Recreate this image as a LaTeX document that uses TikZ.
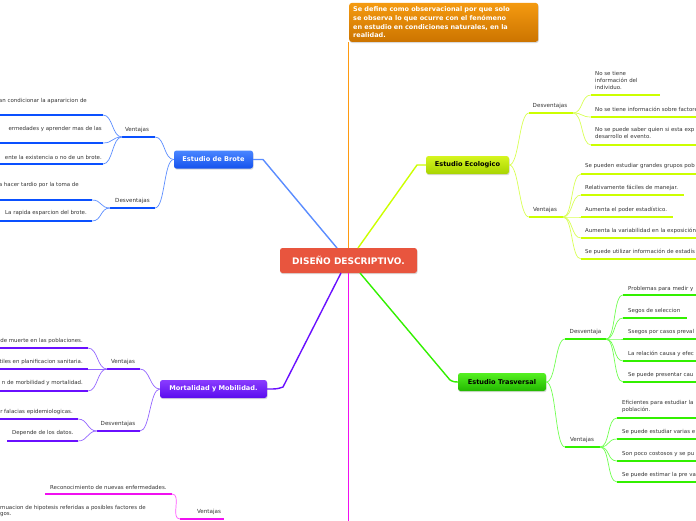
\documentclass[tikz,border=0pt]{standalone}
\usepackage{fontspec}
\setmainfont{DejaVu Sans}
\usetikzlibrary{shadows}
\definecolor{txt}{HTML}{333333}
\definecolor{cred}{HTML}{E8553E}
\definecolor{orT}{HTML}{F49A10}
\definecolor{orB}{HTML}{CC7400}
\definecolor{orL}{HTML}{FF9A10}
\definecolor{blT}{HTML}{4A86FF}
\definecolor{blB}{HTML}{1452EE}
\definecolor{blU}{HTML}{0A50FF}
\definecolor{blL}{HTML}{5A8CFF}
\definecolor{puT}{HTML}{8A3CFF}
\definecolor{puB}{HTML}{5A0CEE}
\definecolor{puU}{HTML}{6A10FF}
\definecolor{puL}{HTML}{9466FF}
\definecolor{ygT}{HTML}{D6F520}
\definecolor{ygB}{HTML}{A8D400}
\definecolor{ygU}{HTML}{CCFF00}
\definecolor{ygL}{HTML}{D8FF55}
\definecolor{grT}{HTML}{55F022}
\definecolor{grB}{HTML}{22B800}
\definecolor{grU}{HTML}{33F000}
\definecolor{grL}{HTML}{70FF50}
\definecolor{piU}{HTML}{F010F0}
\definecolor{piL}{HTML}{FF55FF}
\newcommand\leaf[5]{\coordinate (#1l) at (#2,#4); \coordinate (#1r) at (#3,#4); \draw[ul,#5] (#1l) -- (#1r);}
\begin{document}
\begin{tikzpicture}[x=1pt,y=-1pt,
  leaftext/.style={font=\fontsize{5.45}{6.6}\selectfont, text=txt, inner sep=0pt, align=left},
  lbl/.style={font=\fontsize{5.6}{6.5}\selectfont, text=txt, inner sep=0pt},
  ul/.style={line width=2.6pt},
  con/.style={line width=0.7pt},
  trunk/.style={line width=1.4pt},
  mainbox/.style={rounded corners=2.5pt, minimum height=18pt, inner sep=0pt,
    font=\bfseries\fontsize{6.6}{8}\selectfont,
    drop shadow={shadow xshift=0.6pt, shadow yshift=-1.2pt, opacity=0.3}},
]
\useasboundingbox (0,0) rectangle (696,520);
\clip (0,0) rectangle (696,520);

% ---------- central node and top definition ----------
\node[mainbox, fill=cred, minimum width=137pt, minimum height=25pt, text=white,
      font=\bfseries\fontsize{9}{10}\selectfont] (c) at (348.5,260.5) {DISEÑO DESCRIPTIVO.};
\node[mainbox, top color=orT, bottom color=orB, minimum width=189pt, text width=181pt,
      inner xsep=4pt, inner ysep=4pt, align=left, anchor=south west, text=white,
      font=\bfseries\fontsize{6.5}{8.6}\selectfont] (def) at (349,42)
  {Se define como observacional por que solo\\se observa lo que ocurre con el fenómeno\\en estudio en condiciones naturales, en la\\realidad.};
\draw[trunk, orL] (c.north) -- (c.north |- def.south);
\draw[trunk, piU] (c.south) -- (348.5,530);

% ---------- main topic nodes ----------
\node[mainbox, top color=blT, bottom color=blB, minimum width=79pt, text=white] (B) at (213.5,159.5) {Estudio de Brote};
\node[mainbox, top color=puT, bottom color=puB, minimum width=107pt, text=white] (M) at (213.5,389) {Mortalidad y Mobilidad.};
\node[mainbox, top color=ygT, bottom color=ygB, minimum width=83pt, text=black] (E) at (467.5,165) {Estudio Ecologico};
\node[mainbox, top color=grT, bottom color=grB, minimum width=88pt, text=black] (T) at (502,382) {Estudio Trasversal};

\coordinate (cB) at (337,248); \coordinate (kB) at (263,159.5);
\coordinate (cE) at (358,248); \coordinate (kE) at (417,165);
\coordinate (cM) at (341,273); \coordinate (kM) at (283,387);
\coordinate (cT) at (360,273); \coordinate (kT) at (450,380);
\draw[trunk, blL] (cB) -- (kB) .. controls +(-4,0) .. (B.east);
\draw[trunk, ygU] (cE) -- (kE) .. controls +(4,0) .. (E.west);
\draw[trunk, puU] (cM) -- (kM) .. controls +(-6,2) .. (M.east);
\draw[trunk, grU] (cT) -- (kT) .. controls +(4,2) .. (T.west);

% ---------- Estudio de Brote ----------
\leaf{bV}{122}{155}{137}{blU}
\leaf{bD}{110}{155}{208}{blU}
\node[lbl] (bVt) at (137,130) {Ventajas};
\node[lbl] (bDt) at (132.5,201) {Desventajas};
\draw[con, blL] (B.west) .. controls +(-10,0) and +(10,0) .. (bVr);
\draw[con, blL] (B.west) .. controls +(-10,0) and +(10,0) .. (bDr);
\leaf{b1}{-5}{103}{115}{blU}
\leaf{b2}{-5}{103}{143}{blU}
\leaf{b3}{-5}{103}{164}{blU}
\leaf{b4}{-5}{92}{200}{blU}
\leaf{b5}{0}{92}{221}{blU}
\node[leaftext, anchor=east] (b1t) at (87,101) {an condicionar la apararicion de};
\node[leaftext, anchor=east] (b2t) at (102,129) {ermedades y aprender mas de las};
\node[leaftext, anchor=east] (b3t) at (102,157) {ente la existencia o no de un brote.};
\node[leaftext, anchor=east] (b4t) at (79,185) {a hacer tardio por la toma de};
\node[leaftext, anchor=west] (b5t) at (5,213) {La rapida esparcion del brote.};
\foreach \i in {b1,b2,b3} \draw[con, blL] (bVl) .. controls +(-10,0) and +(10,0) .. (\i r);
\foreach \i in {b4,b5} \draw[con, blL] (bDl) .. controls +(-10,0) and +(10,0) .. (\i r);

% ---------- Mortalidad ----------
\leaf{mV}{107}{140}{369}{puU}
\leaf{mD}{97}{140}{431}{puU}
\node[lbl] (mVt) at (123,362) {Ventajas};
\node[lbl] (mDt) at (118,424) {Desventajas};
\draw[con, puL] (M.west) .. controls +(-10,0) and +(10,0) .. (mVr);
\draw[con, puL] (M.west) .. controls +(-10,0) and +(10,0) .. (mDr);
\leaf{m1}{-5}{88}{348}{puU}
\leaf{m2}{-5}{88}{369}{puU}
\leaf{m3}{-5}{88}{391}{puU}
\leaf{m4}{-5}{78}{419}{puU}
\leaf{m5}{7}{78}{441}{puU}
\node[leaftext, anchor=east] (m1t) at (83,341) {de muerte en las poblaciones.};
\node[leaftext, anchor=east] (m2t) at (83,362) {tiles en planificacion sanitaria.};
\node[leaftext, anchor=east] (m3t) at (83,383) {n de morbilidad y mortalidad.};
\node[leaftext, anchor=east] (m4t) at (73,412) {r falacias epidemiologicas.};
\node[leaftext, anchor=west] (m5t) at (12,433) {Depende de los datos.};
\foreach \i in {m1,m2,m3} \draw[con, puL] (mVl) .. controls +(-10,0) and +(10,0) .. (\i r);
\foreach \i in {m4,m5} \draw[con, puL] (mDl) .. controls +(-10,0) and +(10,0) .. (\i r);

% ---------- bottom (pink) ----------
\leaf{pV}{180}{224}{519}{piU}
\node[lbl] (pVt) at (209,512) {Ventajas};
\leaf{p1}{45}{172}{494}{piU}
\node[leaftext, anchor=west] (p1t) at (50,487) {Reconocimiento de nuevas enfermedades.};
\node[leaftext, anchor=north west, font=\fontsize{5.45}{5.8}\selectfont] (p2t) at (0,505.5) {muacion de hipotesis referidas a posibles factores de\\gos.};
\draw[con, piL] (pVl) .. controls +(-10,0) and +(10,0) .. (p1r);

% ---------- Estudio Ecologico ----------
\leaf{eD}{529}{573}{113}{ygU}
\leaf{eV}{529}{563}{217}{ygU}
\node[lbl] (eDt) at (550,106) {Desventajas};
\node[lbl] (eVt) at (545,209.5) {Ventajas};
\draw[con, ygL] (E.east) .. controls +(10,0) and +(-10,0) .. (eDl);
\draw[con, ygL] (E.east) .. controls +(10,0) and +(-10,0) .. (eVl);
\leaf{e1}{591}{660}{95}{ygU}
\leaf{e2}{591}{700}{117}{ygU}
\leaf{e3}{591}{700}{145}{ygU}
\node[leaftext, anchor=north west] (e1t) at (595,71.5) {No se tiene\\información del\\individuo.};
\node[leaftext, anchor=west] (e2t) at (595,109) {No se tiene información sobre factores};
\node[leaftext, anchor=north west] (e3t) at (595,127.5) {No se puede saber quien si esta exp\\desarrollo el evento.};
\foreach \i in {e1,e2,e3} \draw[con, ygL] (eDr) .. controls +(10,0) and +(-10,0) .. (\i l);
\leaf{e4}{581}{700}{174}{ygU}
\leaf{e5}{581}{684}{195}{ygU}
\leaf{e6}{581}{673}{217}{ygU}
\leaf{e7}{581}{700}{238}{ygU}
\leaf{e8}{581}{700}{259}{ygU}
\node[leaftext, anchor=west] (e4t) at (585,166) {Se pueden estudiar grandes grupos pob};
\node[leaftext, anchor=west] (e5t) at (585,188) {Relativamente fáciles de manejar.};
\node[leaftext, anchor=west] (e6t) at (585,210) {Aumenta el poder estadístico.};
\node[leaftext, anchor=west] (e7t) at (585,231) {Aumenta la variabilidad en la exposición};
\node[leaftext, anchor=west] (e8t) at (585,252) {Se puede utilizar información de estadís};
\foreach \i in {e4,e5,e6,e7,e8} \draw[con, ygL] (eVr) .. controls +(10,0) and +(-10,0) .. (\i l);

% ---------- Estudio Trasversal ----------
\leaf{tD}{565}{606}{339}{grU}
\leaf{tV}{565}{600}{447}{grU}
\node[lbl] (tDt) at (585.5,332) {Desventaja};
\node[lbl] (tVt) at (582,439.5) {Ventajas};
\draw[con, grL] (T.east) .. controls +(10,0) and +(-10,0) .. (tDl);
\draw[con, grL] (T.east) .. controls +(10,0) and +(-10,0) .. (tVl);
\leaf{t1}{623}{700}{295}{grU}
\leaf{t2}{623}{687}{318}{grU}
\leaf{t3}{623}{700}{339}{grU}
\leaf{t4}{623}{700}{361}{grU}
\leaf{t5}{623}{700}{382}{grU}
\node[leaftext, anchor=west] (t1t) at (628,289) {Problemas para medir y};
\node[leaftext, anchor=west] (t2t) at (628,311) {Segos de seleccion};
\node[leaftext, anchor=west] (t3t) at (628,332) {Ssegos por casos preval};
\node[leaftext, anchor=west] (t4t) at (628,354) {La relación causa y efec};
\node[leaftext, anchor=west] (t5t) at (628,375) {Se puede presentar cau};
\foreach \i in {t1,t2,t3,t4,t5} \draw[con, grL] (tDr) .. controls +(10,0) and +(-10,0) .. (\i l);
\leaf{t6}{617}{700}{418}{grU}
\leaf{t7}{617}{700}{439}{grU}
\leaf{t8}{617}{700}{461}{grU}
\leaf{t9}{617}{700}{482}{grU}
\node[leaftext, anchor=north west] (t6t) at (622,400.5) {Eficientes para estudiar la\\población.};
\node[leaftext, anchor=west] (t7t) at (622,432) {Se puede estudiar varias e};
\node[leaftext, anchor=west] (t8t) at (622,454) {Son poco costosos y se pu};
\node[leaftext, anchor=west] (t9t) at (622,475) {Se puede estimar la pre va};
\foreach \i in {t6,t7,t8,t9} \draw[con, grL] (tVr) .. controls +(10,0) and +(-10,0) .. (\i l);
\end{tikzpicture}
\end{document}
